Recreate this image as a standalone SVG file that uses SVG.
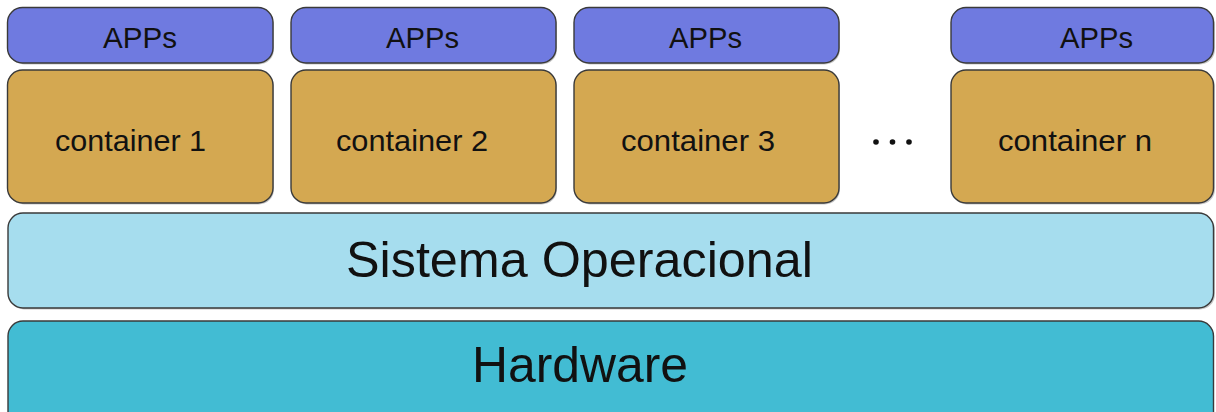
<svg xmlns="http://www.w3.org/2000/svg" width="1216" height="412" viewBox="0 0 1216 412">
<defs>
<style>
.box{stroke:#3a3a3a;stroke-width:1.4}
.app{fill:#6f7ae0}
.ctr{fill:#d4a851}
.os{fill:#a6ddee}
.hw{fill:#42bcd3}
.sh{fill:#c8c8c8}
text{font-family:"Liberation Sans",Arial,sans-serif;fill:#111}
.t29{font-size:30px}
.t49{font-size:49.5px}
</style>
</defs>
<rect width="1216" height="412" fill="#ffffff"/>
<g id="apps1"><rect class="sh" x="9" y="9.5" width="265" height="55" rx="15"/><rect class="box app" x="7.5" y="7.5" width="265.5" height="55.5" rx="15"/><text class="t29" x="103" y="48" textLength="74" lengthAdjust="spacingAndGlyphs">APPs</text></g>
<g id="container1"><rect class="sh" x="9" y="71.5" width="265" height="133" rx="15"/><rect class="box ctr" x="7.5" y="70" width="265.5" height="133" rx="15"/><text class="t29" x="55" y="151" textLength="151" lengthAdjust="spacingAndGlyphs">container 1</text></g>
<g id="apps2"><rect class="sh" x="292" y="9.5" width="265" height="55" rx="15"/><rect class="box app" x="291" y="7.5" width="265" height="55.5" rx="15"/><text class="t29" x="386" y="48" textLength="73" lengthAdjust="spacingAndGlyphs">APPs</text></g>
<g id="container2"><rect class="sh" x="292" y="71.5" width="265" height="133" rx="15"/><rect class="box ctr" x="291" y="70" width="265" height="133" rx="15"/><text class="t29" x="336" y="151" textLength="152" lengthAdjust="spacingAndGlyphs">container 2</text></g>
<g id="apps3"><rect class="sh" x="575" y="9.5" width="265" height="55" rx="15"/><rect class="box app" x="574" y="7.5" width="265" height="55.5" rx="15"/><text class="t29" x="669" y="48" textLength="73" lengthAdjust="spacingAndGlyphs">APPs</text></g>
<g id="container3"><rect class="sh" x="575" y="71.5" width="265" height="133" rx="15"/><rect class="box ctr" x="574" y="70" width="265" height="133" rx="15"/><text class="t29" x="621" y="151" textLength="154" lengthAdjust="spacingAndGlyphs">container 3</text></g>
<g id="ellipsis"><circle cx="876" cy="142" r="2.8" fill="#111"/><circle cx="892.5" cy="142" r="2.8" fill="#111"/><circle cx="909" cy="142" r="2.8" fill="#111"/></g>
<g id="appsn"><rect class="sh" x="952" y="9.5" width="263" height="55" rx="15"/><rect class="box app" x="951" y="7.5" width="262.5" height="55.5" rx="15"/><text class="t29" x="1060" y="48" textLength="73" lengthAdjust="spacingAndGlyphs">APPs</text></g>
<g id="containern"><rect class="sh" x="952" y="71.5" width="263" height="133" rx="15"/><rect class="box ctr" x="951" y="70" width="262.5" height="133" rx="15"/><text class="t29" x="998" y="151" textLength="154" lengthAdjust="spacingAndGlyphs">container n</text></g>
<g id="os"><rect class="sh" x="9" y="214.5" width="1206" height="95" rx="15"/><rect class="box os" x="8" y="213" width="1205.5" height="95" rx="15"/><text class="t49" x="346" y="277" textLength="467" lengthAdjust="spacingAndGlyphs">Sistema Operacional</text></g>
<g id="hardware"><rect class="box hw" x="8" y="321" width="1205.5" height="110" rx="15"/><text class="t49" x="472" y="382" textLength="216" lengthAdjust="spacingAndGlyphs">Hardware</text></g>
<g id="connectors"></g>
</svg>
